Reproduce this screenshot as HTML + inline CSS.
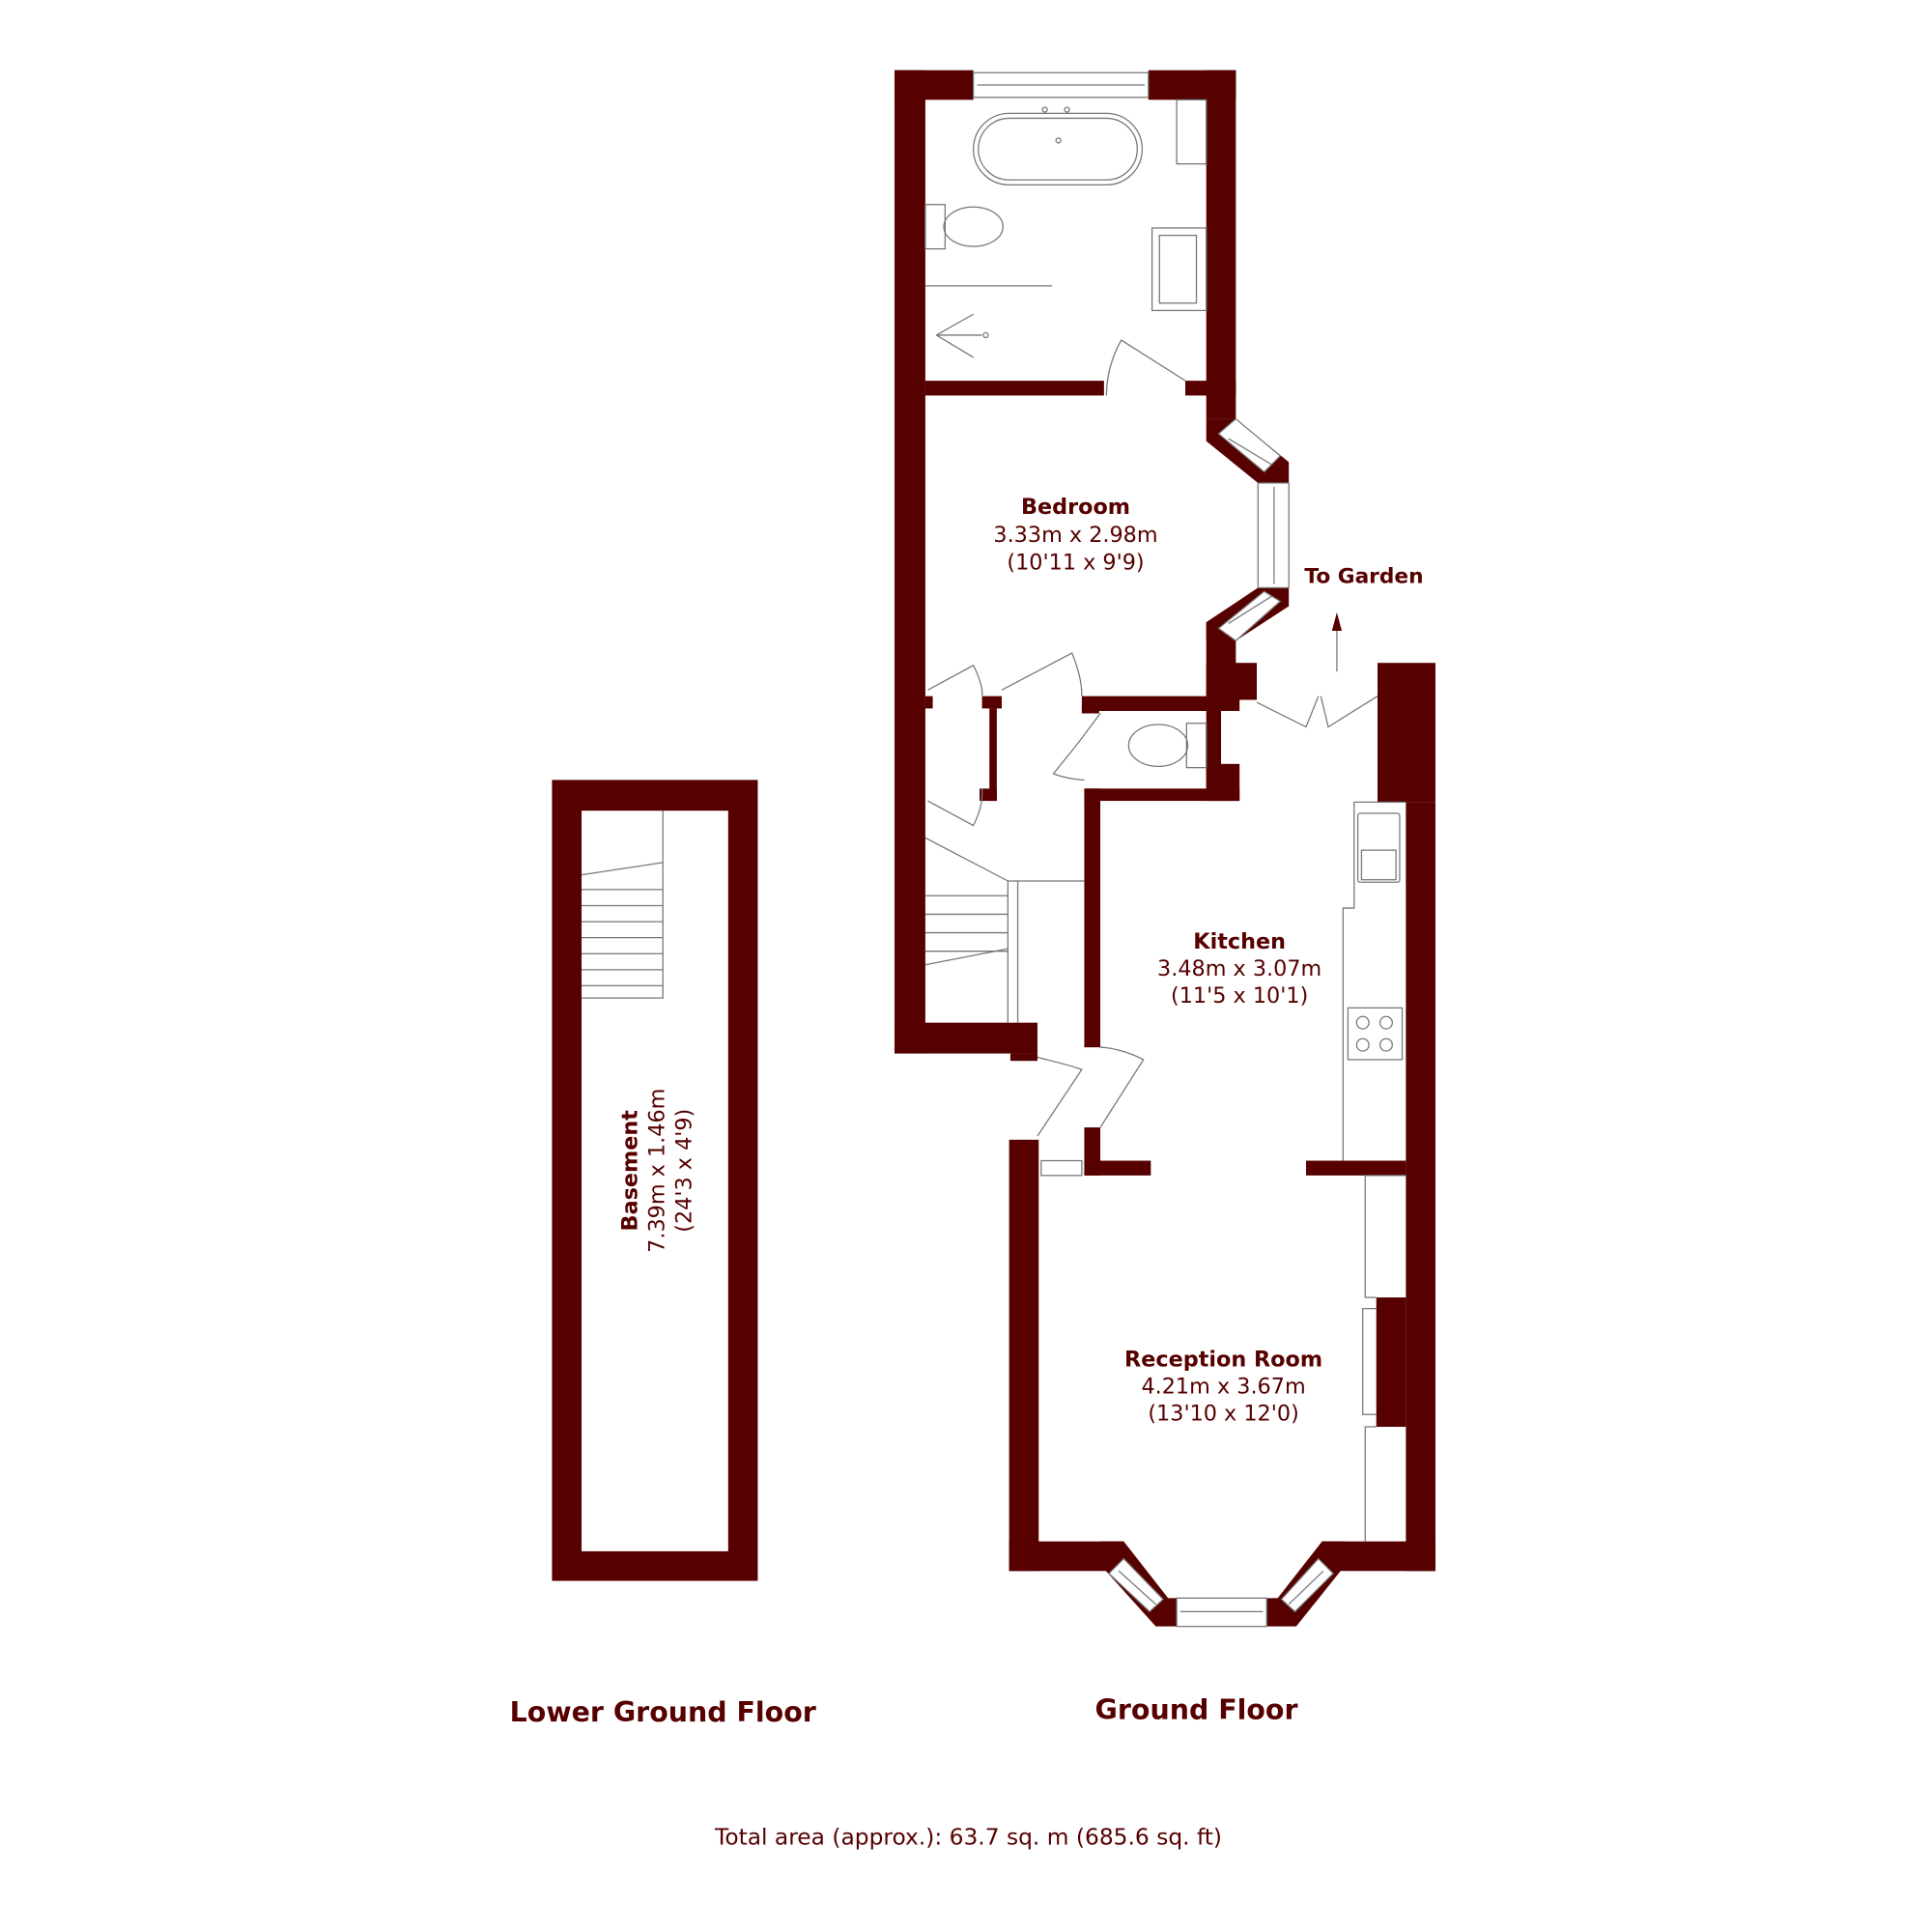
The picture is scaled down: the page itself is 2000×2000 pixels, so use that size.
<!DOCTYPE html>
<html><head><meta charset="utf-8"><style>
html,body{margin:0;padding:0;background:#fff;width:2000px;height:2000px;overflow:hidden}
svg{display:block}
text{font-family:"DejaVu Sans","Liberation Sans",sans-serif;fill:#560000}
.b{font-weight:bold}
</style></head><body>
<svg width="2000" height="2000" viewBox="0 0 1568 1568" xmlns="http://www.w3.org/2000/svg">
<rect width="1568" height="1568" fill="#fff"/>
<g fill="#560000">
<path fill-rule="evenodd" d="M448,633H615V1283H448Z M472,658V1259H591V658Z"/>
<rect x="726" y="57" width="64" height="24"/>
<rect x="932" y="57" width="71" height="24"/>
<rect x="726" y="57" width="25" height="798"/>
<rect x="979" y="57" width="24" height="283"/>
<rect x="751" y="309" width="145" height="12"/>
<rect x="962" y="309" width="41" height="12"/>
<polygon points="979,340 1003,340 1046,375 1046,392 1021,392 979,358"/>
<polygon points="979,520 1003,520 1046,492 1046,477 1021,477 979,505"/>
<rect x="979" y="505" width="24" height="60"/>
<rect x="979" y="538" width="41" height="30"/>
<rect x="878" y="565" width="112" height="12"/>
<rect x="979" y="565" width="27" height="12"/>
<rect x="979" y="577" width="12" height="63"/>
<rect x="979" y="620" width="27" height="30"/>
<rect x="880" y="640" width="126" height="10"/>
<rect x="880" y="640" width="13" height="210"/>
<rect x="751" y="565" width="6" height="10"/>
<rect x="797" y="565" width="16" height="10"/>
<rect x="803" y="575" width="6" height="75"/>
<rect x="795" y="640" width="14" height="10"/>
<rect x="878" y="573" width="14" height="6"/>
<rect x="726" y="830" width="116" height="25"/>
<rect x="820" y="855" width="22" height="6"/>
<rect x="1118" y="538" width="47" height="113"/>
<rect x="1141" y="651" width="24" height="624"/>
<rect x="880" y="915" width="13" height="39"/>
<rect x="880" y="942" width="54" height="12"/>
<rect x="1060" y="942" width="81" height="12"/>
<rect x="1117" y="1053" width="24" height="105"/>
<rect x="819" y="925" width="24" height="350"/>
<rect x="819" y="1251" width="93" height="24"/>
<rect x="1073" y="1251" width="92" height="24"/>
<polygon points="893,1251 912,1251 948,1297 955,1297 955,1320 938,1320 893,1270"/>
<polygon points="1092,1251 1073,1251 1037,1297 1028,1297 1028,1320 1052,1320 1092,1270"/>
</g>
<g fill="#fff" stroke="#777" stroke-width="1">
<rect x="790" y="59" width="142" height="20"/>
<rect x="955" y="1297" width="73" height="23"/>
<rect x="1021" y="392" width="25" height="85"/>
<polygon points="989,352 1003,340 1039,370 1026,383"/>
<polygon points="989,510 1003,520 1039,488 1026,480"/>
<polygon points="900,1277 912,1265 944,1298 933,1308"/>
<polygon points="1082,1277 1070,1265 1040,1298 1051,1308"/>
<rect x="845" y="942" width="33" height="12"/>
</g>
<g fill="none" stroke="#777" stroke-width="1">
<line x1="793" y1="69" x2="929" y2="69"/>
<line x1="958" y1="1308" x2="1025" y2="1308"/>
<line x1="1034" y1="395" x2="1034" y2="474"/>
<line x1="997" y1="356" x2="1032" y2="377"/>
<line x1="997" y1="506" x2="1032" y2="484"/>
<line x1="908" y1="1275" x2="938" y2="1302"/>
<line x1="1074" y1="1275" x2="1046" y2="1302"/>
<rect x="790" y="92" width="137" height="58" rx="29"/>
<rect x="794" y="96" width="129" height="50" rx="25"/>
<circle cx="859" cy="114" r="2"/><circle cx="848" cy="89" r="2"/><circle cx="866" cy="89" r="2"/>
<rect x="955" y="81" width="24" height="52"/>
<rect x="751" y="166" width="16" height="36"/>
<ellipse cx="790" cy="184" rx="24" ry="16"/>
<rect x="935" y="185" width="44" height="67"/><rect x="941" y="191" width="30" height="55"/>
<line x1="751" y1="232" x2="854" y2="232"/>
<line x1="760" y1="272" x2="797" y2="272"/><line x1="760" y1="272" x2="790" y2="255"/><line x1="760" y1="272" x2="790" y2="290"/>
<circle cx="800" cy="272" r="2"/>
<path d="M898,321 C898,300 905,285 910,276 L962,309"/>
<path d="M753,560 L790,540 C795,550 798,560 797,565"/>
<path d="M813,560 L870,530 C876,545 878,555 878,565"/>
<path d="M893,579 L875,603 L855,628 C865,632 878,633 880,633"/>
<path d="M753,650 L790,670 C795,660 798,650 797,640"/>
<path d="M1020,570 L1060,590 L1070,565 M1072,565 L1078,590 L1118,565"/>
<path d="M842,922 L878,868 C860,862 848,860 842,858"/>
<path d="M893,915 L928,860 C915,853 900,850 893,850"/>
<rect x="963" y="587" width="16" height="36"/>
<ellipse cx="940" cy="605" rx="24" ry="17"/>
<path d="M751,680 L818,715 V830 M818,715 H880 M826,715 V830 M751,727 H818 M751,742 H818 M751,757 H818 M751,772 H818 M751,783 L818,770"/>
<path d="M538,658 V810 H472 M472,710 L538,700 M472,722 H538 M472,735 H538 M472,748 H538 M472,761 H538 M472,774 H538 M472,787 H538 M472,800 H538"/>
<path d="M1141,651 H1099 V737 H1090 V942"/>
<rect x="1102" y="660" width="34" height="56" rx="2"/><rect x="1105" y="690" width="28" height="24"/>
<rect x="1094" y="818" width="44" height="42"/>
<circle cx="1106" cy="830" r="5"/><circle cx="1125" cy="830" r="5"/><circle cx="1106" cy="848" r="5"/><circle cx="1125" cy="848" r="5"/>
<path d="M1141,954 H1108 V1053 H1117 M1117,1062 H1106 V1148 H1117 M1117,1158 H1108 V1251"/>
<line x1="1085" y1="545" x2="1085" y2="505"/>
</g>
<polygon points="1085,497 1081,512 1089,512" fill="#560000"/>
<g text-anchor="middle">
<text x="873" y="417" font-size="17.5" class="b">Bedroom</text>
<text x="873" y="440" font-size="17.5">3.33m x 2.98m</text>
<text x="873" y="462" font-size="17.5">(10'11 x 9'9)</text>
<text x="1107" y="473" font-size="17" class="b">To Garden</text>
<text x="1006" y="770" font-size="17.5" class="b">Kitchen</text>
<text x="1006" y="792" font-size="17.5">3.48m x 3.07m</text>
<text x="1006" y="814" font-size="17.5">(11'5 x 10'1)</text>
<text x="993" y="1109" font-size="17.5" class="b">Reception Room</text>
<text x="993" y="1131" font-size="17.5">4.21m x 3.67m</text>
<text x="993" y="1153" font-size="17.5">(13'10 x 12'0)</text>
<text x="538" y="1397" font-size="22.3" class="b">Lower Ground Floor</text>
<text x="971" y="1395" font-size="22.3" class="b">Ground Floor</text>
<text x="786" y="1497" font-size="18.3">Total area (approx.): 63.7 sq. m (685.6 sq. ft)</text>
<g transform="translate(531,950) rotate(-90)">
<text x="0" y="-14" font-size="17.5" class="b">Basement</text>
<text x="0" y="8" font-size="17.5">7.39m x 1.46m</text>
<text x="0" y="30" font-size="17.5">(24'3 x 4'9)</text>
</g>
</g>
</svg>
</body></html>
